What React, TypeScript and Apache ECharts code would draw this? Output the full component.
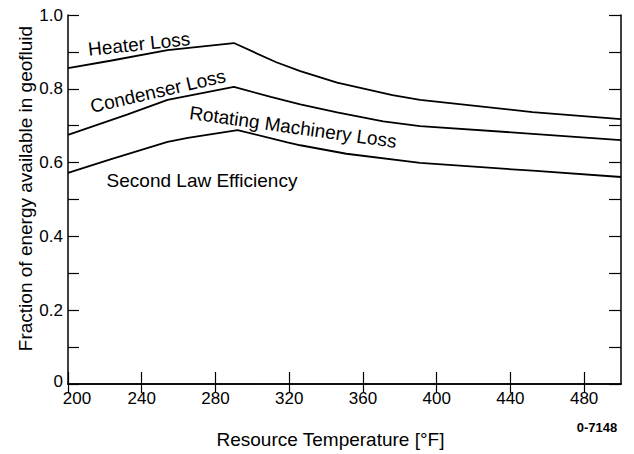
import React, { useEffect, useRef } from "react";
import * as echarts from "echarts";

// Resource temperature (°F) and fraction of energy for each boundary curve
const heaterTemps = [200, 223, 254, 290, 313, 326, 346, 376, 391, 452, 500];
const heaterVals = [0.856, 0.876, 0.905, 0.924, 0.872, 0.848, 0.817, 0.783, 0.770, 0.737, 0.718];

const condenserTemps = [200, 232, 254, 290, 310, 326, 346, 371, 391, 452, 500];
const condenserVals = [0.675, 0.730, 0.770, 0.805, 0.778, 0.758, 0.736, 0.712, 0.699, 0.678, 0.661];

const efficiencyTemps = [200, 223, 254, 265, 292, 319, 326, 351, 391, 452, 500];
const efficiencyVals = [0.572, 0.609, 0.656, 0.667, 0.688, 0.655, 0.647, 0.624, 0.599, 0.578, 0.561];

const xTickValues = [200, 240, 280, 320, 360, 400, 440, 480];
const yTickValues = [0, 0.1, 0.2, 0.3, 0.4, 0.5, 0.6, 0.7, 0.8, 0.9, 1.0];
const yLabelValues = [0, 0.2, 0.4, 0.6, 0.8, 1.0];

const curveLabels = ["Heater Loss", "Condenser Loss", "Rotating Machinery Loss", "Second Law Efficiency"];

const FONT = "'Liberation Sans', Arial, Helvetica, sans-serif";

function pairs(xs: number[], ys: number[]) {
  return xs.map((x, i) => [x, ys[i]]);
}

export default function App() {
  const ref = useRef<HTMLDivElement>(null);

  useEffect(() => {
    if (!ref.current) return;
    const chart = echarts.init(ref.current, undefined, { renderer: "svg" });
    const axisLine = { show: true, lineStyle: { color: "#000", width: 1.5 } };
    const lineSeries = (name: string, data: number[][]) => ({
      name,
      type: "line",
      data,
      showSymbol: false,
      symbol: "none",
      silent: true,
      lineStyle: { color: "#000", width: 1.8 },
      xAxisIndex: 0,
      yAxisIndex: 0,
    });
    const labelText = (text: string, x: number, y: number, deg: number, size = 19, weight = "normal") => ({
      type: "text",
      x,
      y,
      rotation: (deg * Math.PI) / 180,
      silent: true,
      style: {
        text,
        font: `${weight} ${size}px ${FONT}`,
        fill: "#000",
        textAlign: "center",
        textVerticalAlign: "middle",
        align: "center",
        verticalAlign: "middle",
      },
    });

    chart.setOption({
      animation: false,
      backgroundColor: "#fff",
      grid: { left: 68, right: 13, top: 15, bottom: 70, containLabel: false },
      xAxis: [
        {
          type: "value",
          position: "bottom",
          min: 200,
          max: 500,
          interval: 40,
          axisLine,
          axisTick: { inside: true, length: 12, customValues: xTickValues, lineStyle: { color: "#000", width: 1.2 } },
          axisLabel: {
            customValues: xTickValues,
            fontSize: 17,
            color: "#000",
            fontFamily: FONT,
            margin: 6,
            formatter: (v: number) => (v === 200 ? "{first|200}" : String(v)),
            rich: { first: { fontSize: 17, color: "#000", fontFamily: FONT, padding: [0, 0, 0, 18] } },
          },
          splitLine: { show: false },
          name: "Resource Temperature [°F]",
          nameLocation: "middle",
          nameGap: 46,
          nameMoveOverlap: false,
          nameTextStyle: { fontSize: 19, color: "#000", fontFamily: FONT, padding: [0, 28, 0, 0] },
        },
        {
          type: "value",
          position: "top",
          min: 200,
          max: 500,
          interval: 40,
          axisLine,
          axisTick: { inside: true, length: 9, customValues: xTickValues, lineStyle: { color: "#000", width: 1.2 } },
          axisLabel: { show: false },
          splitLine: { show: false },
        },
      ],
      yAxis: [
        {
          type: "value",
          position: "left",
          min: 0,
          max: 1,
          interval: 0.1,
          axisLine,
          axisTick: { inside: true, length: 11, customValues: yTickValues, lineStyle: { color: "#000", width: 1.2 } },
          axisLabel: {
            customValues: yLabelValues,
            fontSize: 17,
            color: "#000",
            fontFamily: FONT,
            margin: 5,
            formatter: (v: number) => (v === 1 ? "1.0" : v === 0 ? "{zero|0}" : v.toFixed(1)),
            rich: { zero: { fontSize: 17, color: "#000", fontFamily: FONT, padding: [0, 0, 6, 0] } },
          },
          splitLine: { show: false },
          name: "Fraction of energy available in geofluid",
          nameLocation: "middle",
          nameGap: 33,
          nameMoveOverlap: false,
          nameTextStyle: { fontSize: 19, color: "#000", fontFamily: FONT, padding: [0, 0, 0, 22] },
        },
        {
          type: "value",
          position: "right",
          min: 0,
          max: 1,
          interval: 0.1,
          axisLine,
          axisTick: { inside: true, length: 12, customValues: yTickValues, lineStyle: { color: "#000", width: 1.2 } },
          axisLabel: { show: false },
          splitLine: { show: false },
        },
      ],
      series: [
        lineSeries(curveLabels[0], pairs(heaterTemps, heaterVals)),
        lineSeries(curveLabels[1], pairs(condenserTemps, condenserVals)),
        lineSeries(curveLabels[3], pairs(efficiencyTemps, efficiencyVals)),
      ],
      graphic: [
        labelText(curveLabels[0], 139, 44, 6),
        labelText(curveLabels[1], 158, 91, 13),
        labelText(curveLabels[2], 293, 127, -8),
        labelText(curveLabels[3], 202, 180, 0),
        labelText("0-7148", 597, 427, 0, 13, "bold"),
      ],
    });
    return () => chart.dispose();
  }, []);

  return (
    <div
      ref={ref}
      style={{ position: "fixed", left: 0, top: 0, width: 634, height: 454, background: "#fff" }}
    />
  );
}
